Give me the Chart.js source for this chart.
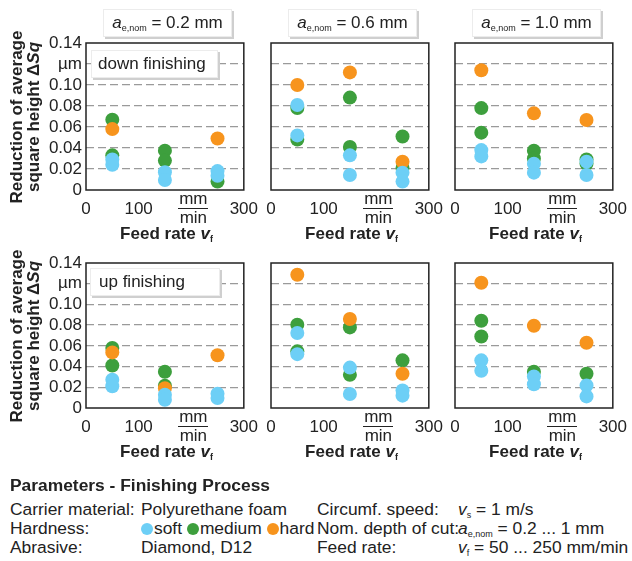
<!DOCTYPE html>
<html lang="en">
<head>
<meta charset="UTF-8">
<title>Reduction of average square height</title>
<script src="https://cdn.jsdelivr.net/npm/chart.js"></script>
<style>
    body { margin: 0; width: 632px; height: 561px; background: #fff; position: relative; overflow: hidden;
           font-family: 'Liberation Sans', Arial, sans-serif; color: #222; }
    canvas { position: absolute; }
    .box { position: absolute; background: #fff; border: 1px solid #ececec; box-shadow: 2px 2px 0 #cfcfcf;
           font-size: 17px; line-height: 26px; z-index: 5; white-space: nowrap; }
    .hdr { text-align: center; }
    sub { font-size: 9px; vertical-align: -3px; }
    .ytitle { position: absolute; width: 190px; font-weight: bold; font-size: 17px; line-height: 17px;
              text-align: center; transform: rotate(-90deg); }
    .xtitle { position: absolute; width: 161px; text-align: center; font-weight: bold; font-size: 17px; }
    .frac { position: absolute; width: 40px; text-align: center; font-size: 17px; line-height: 18px; }
    .frac .num { border-bottom: 1.5px solid #222; display: inline-block; padding: 0 1px; }
    .param { position: absolute; font-size: 17.4px; line-height: 20px; white-space: nowrap; }
    .dot { display: inline-block; width: 12px; height: 12px; border-radius: 50%; vertical-align: -1px; margin: 0 1px 0 0; }
</style>
</head>
<body>
<script>
// feed rate axis and tick labels
const xTicks = [0, 100, 200, 300];
const yTicks = [0, 0.02, 0.04, 0.06, 0.08, 0.10, 0.12, 0.14];
const depthLabels = ['0.2', '0.6', '1.0'];

// [feed rate mm/min, reduction of Sq in µm] — down finishing
const down02Soft   = [[50, 0.029], [50, 0.024], [150, 0.017], [150, 0.0095], [250, 0.018], [250, 0.0136]];
const down02Medium = [[50, 0.067], [50, 0.033], [150, 0.0375], [150, 0.028], [250, 0.008]];
const down02Hard   = [[50, 0.058], [250, 0.049]];

const down06Soft   = [[50, 0.081], [50, 0.052], [150, 0.033], [150, 0.0143], [250, 0.0165], [250, 0.008]];
const down06Medium = [[50, 0.078], [50, 0.048], [150, 0.088], [150, 0.041], [250, 0.051], [250, 0.021]];
const down06Hard   = [[50, 0.100], [150, 0.112], [250, 0.027]];

const down10Soft   = [[50, 0.038], [50, 0.032], [150, 0.025], [150, 0.0165], [250, 0.027], [250, 0.0143]];
const down10Medium = [[50, 0.078], [50, 0.0546], [150, 0.0375], [150, 0.030], [250, 0.029], [250, 0.025]];
const down10Hard   = [[50, 0.114], [150, 0.073], [250, 0.0667]];

// up finishing
const up02Soft   = [[50, 0.0273], [50, 0.021], [150, 0.0128], [150, 0.008], [250, 0.0138], [250, 0.0097]];
const up02Medium = [[50, 0.058], [50, 0.041], [150, 0.035], [150, 0.0215]];
const up02Hard   = [[50, 0.0537], [150, 0.019], [250, 0.051]];

const up06Soft   = [[50, 0.0724], [50, 0.052], [150, 0.039], [150, 0.0135], [250, 0.017], [250, 0.0119]];
const up06Medium = [[50, 0.0804], [50, 0.0547], [150, 0.0778], [150, 0.032], [250, 0.046]];
const up06Hard   = [[50, 0.1287], [150, 0.086], [250, 0.033]];

const up10Soft   = [[50, 0.046], [50, 0.036], [150, 0.0305], [150, 0.023], [250, 0.0218], [250, 0.0112]];
const up10Medium = [[50, 0.0843], [50, 0.069], [150, 0.035], [250, 0.033]];
const up10Hard   = [[50, 0.121], [150, 0.0794], [250, 0.063]];

const SOFT = '#6dcff6', MEDIUM = '#3d9f3d', HARD = '#f7941d';

const grid = [
    [[down02Soft, down02Medium, down02Hard], [down06Soft, down06Medium, down06Hard], [down10Soft, down10Medium, down10Hard]],
    [[up02Soft, up02Medium, up02Hard], [up06Soft, up06Medium, up06Hard], [up10Soft, up10Medium, up10Hard]]
];

const colLeft = [86, 271, 455];
const rowTop = [43, 263];
const rowH = [147, 145];
const PW = 161, PADL = 60, PADT = 16, PADR = 20, PADB = 40;

const frameBox = {
    id: 'frameBox',
    afterDraw(chart) {
        const a = chart.chartArea, ctx = chart.ctx;
        ctx.save();
        ctx.strokeStyle = '#222';
        ctx.lineWidth = 1.5;
        ctx.strokeRect(a.left, a.top, a.right - a.left, a.bottom - a.top);
        ctx.restore();
    }
};

function toPts(arr) { return arr.map(p => ({ x: p[0], y: p[1] })); }

function html(s) { document.body.insertAdjacentHTML('beforeend', s); }

for (let r = 0; r < 2; r++) {
    for (let c = 0; c < 3; c++) {
        const [soft, medium, hard] = grid[r][c];
        const cv = document.createElement('canvas');
        const w = PW + PADL + PADR, h = rowH[r] + PADT + PADB;
        cv.width = w; cv.height = h;
        cv.style.left = (colLeft[c] - PADL) + 'px';
        cv.style.top = (rowTop[r] - PADT) + 'px';
        cv.style.width = w + 'px'; cv.style.height = h + 'px';
        document.body.appendChild(cv);
        const showY = c === 0;
        new Chart(cv, {
            type: 'scatter',
            data: {
                datasets: [
                    { label: 'soft', data: toPts(soft), backgroundColor: SOFT },
                    { label: 'hard', data: toPts(hard), backgroundColor: HARD },
                    { label: 'medium', data: toPts(medium), backgroundColor: MEDIUM }
                ]
            },
            options: {
                responsive: false,
                animation: false,
                layout: { padding: { top: PADT, right: PADR, left: 0, bottom: 0 } },
                elements: { point: { radius: 7, borderWidth: 0, hoverRadius: 7 } },
                plugins: { legend: { display: false }, tooltip: { enabled: false } },
                scales: {
                    x: {
                        type: 'linear', min: 0, max: 300,
                        afterFit(s) { s.height = PADB; },
                        afterBuildTicks(s) { s.ticks = xTicks.map(v => ({ value: v })); },
                        grid: { display: false, drawTicks: false },
                        border: { display: false },
                        ticks: {
                            padding: 9, color: '#222', maxRotation: 0, autoSkip: false,
                            font: { family: 'Liberation Sans', size: 17 },
                            callback: v => v === 200 ? '' : String(v)
                        }
                    },
                    y: {
                        min: 0, max: 0.14,
                        afterFit(s) { s.width = PADL; },
                        afterBuildTicks(s) { s.ticks = yTicks.map(v => ({ value: v })); },
                        grid: {
                            drawTicks: false, lineWidth: 1.3,
                            color: ctx => (ctx.tick && ctx.tick.value > 0.001 && ctx.tick.value < 0.139) ? '#9a9a9a' : 'rgba(0,0,0,0)'
                        },
                        border: { display: false, dash: [8, 4] },
                        ticks: {
                            display: showY, padding: 4, color: '#222', autoSkip: false,
                            font: { family: 'Liberation Sans', size: 17 },
                            callback: v => Math.abs(v - 0.12) < 1e-6 ? 'µm' : (v === 0 ? '0' : v.toFixed(2))
                        }
                    }
                }
            },
            plugins: [frameBox]
        });

        // x title + unit fraction
        const by = rowTop[r] + rowH[r];
        html(`<div class="xtitle" style="left:${colLeft[c]}px;top:${by + 34}px">Feed rate <i>v</i><sub>f</sub></div>`);
        html(`<div class="frac" style="left:${colLeft[c] + PW * 2 / 3 - 20}px;top:${by}px"><span class="num">mm</span><br>min</div>`);
        if (r === 0) {
            html(`<div class="box hdr" style="left:${colLeft[c] + 17}px;top:9px;width:127px;height:26px"><i>a</i><sub>e,nom</sub> = ${depthLabels[c]} mm</div>`);
        }
    }
    html(`<div class="ytitle" style="left:-70px;top:${rowTop[r] + rowH[r] / 2 - 17}px">Reduction of average<br>square height Δ<i>Sq</i></div>`);
}

html('<div class="box" style="left:91px;top:50px;width:119px;height:26px;padding-left:6px">down finishing</div>');
html('<div class="box" style="left:90px;top:268px;width:120px;height:26px;padding-left:8px">up finishing</div>');

// parameter block
const rows = [
    ['Carrier material:', 'Polyurethane foam', 'Circumf. speed:', '<i>v</i><sub>s</sub> = 1 m/s'],
    ['Hardness:', `<span class="dot" style="background:${SOFT}"></span>soft <span class="dot" style="background:${MEDIUM}"></span>medium <span class="dot" style="background:${HARD}"></span>hard`,
     'Nom. depth of cut:', '<i>a</i><sub>e,nom</sub> = 0.2 ... 1 mm'],
    ['Abrasive:', 'Diamond, D12', 'Feed rate:', '<i>v</i><sub>f</sub> = 50 ... 250 mm/min']
];
const paramX = [10, 141, 317, 458];
const rowY = [509, 528, 547];
html('<div class="param" style="left:10px;top:475px;font-weight:bold">Parameters - Finishing Process</div>');
rows.forEach((row, i) => {
    row.forEach((t, j) => {
        html(`<div class="param" style="left:${paramX[j]}px;top:${rowY[i] - 10}px">${t}</div>`);
    });
});
</script>
</body>
</html>
